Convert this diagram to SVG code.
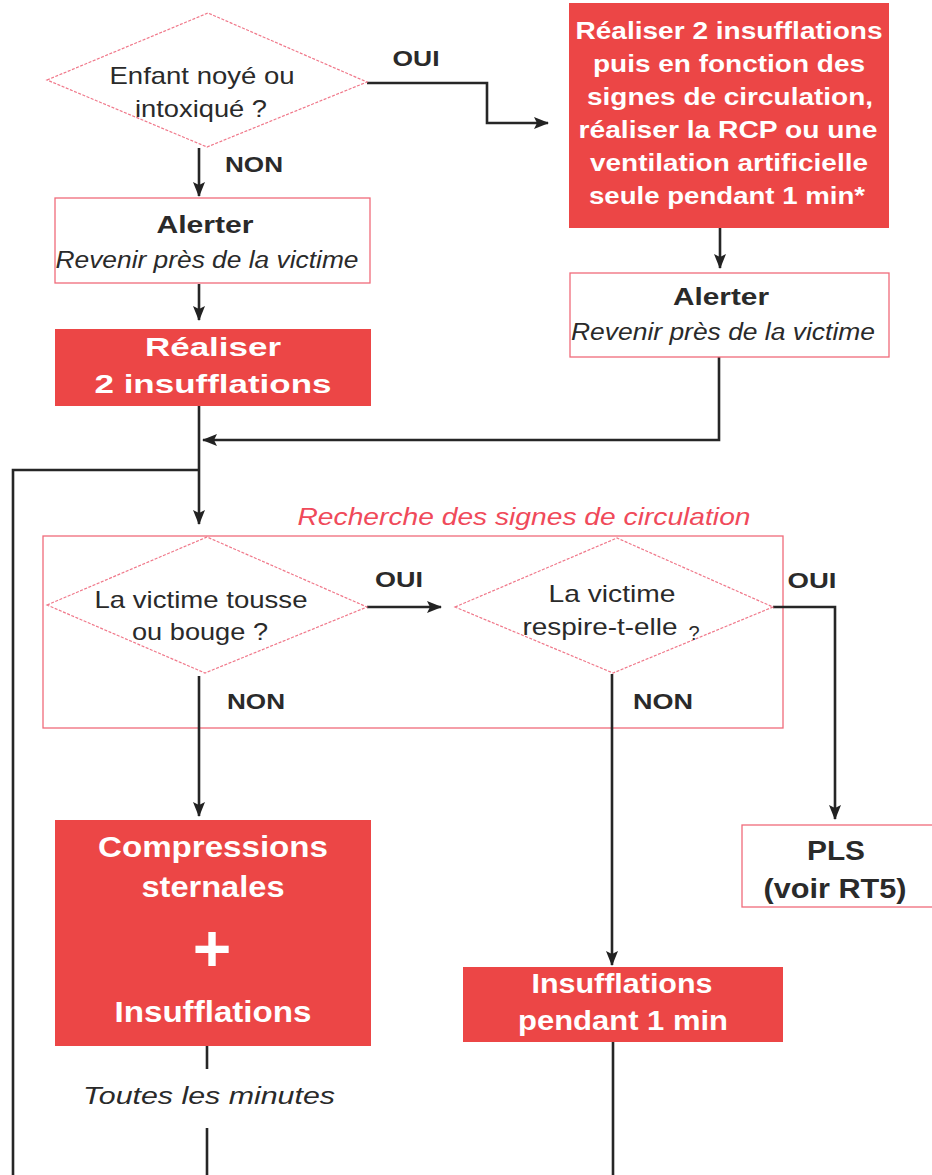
<svg xmlns="http://www.w3.org/2000/svg" width="932" height="1175" viewBox="0 0 932 1175">
<defs>
<marker id="arr" markerUnits="userSpaceOnUse" markerWidth="16" markerHeight="14" refX="14" refY="7" orient="auto">
<path d="M0,1 L15,7 L0,13 L3,7 Z" fill="#222"/>
</marker>
<style>
.dia{fill:#fff;stroke:#f0788a;stroke-width:1.2;stroke-dasharray:3 1.5}
.box{fill:#fff;stroke:#f06b7a;stroke-width:1.3}
.frame{fill:none;stroke:#f06b7a;stroke-width:1.3}
.red{fill:#ec4646}
.ln{fill:none;stroke:#262626;stroke-width:2.6}
.t{font-family:"Liberation Sans",Arial,sans-serif;fill:#2a2a2a;text-anchor:middle}
.n{font-size:24px}
.b{font-size:22px;font-weight:bold}
.bh{font-size:24px;font-weight:bold}
.i{font-size:23px;font-style:italic}
.w{font-family:"Liberation Sans",Arial,sans-serif;fill:#fff;font-weight:bold;text-anchor:middle}
</style>
</defs>
<rect width="932" height="1175" fill="#fff"/>

<g id="recherche">
<rect class="frame" x="43" y="536" width="740" height="192"/>
<text x="524" y="525" font-family="Liberation Sans, Arial, sans-serif" font-size="24" font-style="italic" fill="#f04a5a" text-anchor="middle" textLength="453" lengthAdjust="spacingAndGlyphs">Recherche des signes de circulation</text>
</g>

<g id="connectors">
<path class="ln" d="M367,83 H487 V123 H548" marker-end="url(#arr)"/>
<path class="ln" d="M199,148 V196" marker-end="url(#arr)"/>
<path class="ln" d="M199,284 V320" marker-end="url(#arr)"/>
<path class="ln" d="M720,228 V268" marker-end="url(#arr)"/>
<path class="ln" d="M719,357 V440 H203" marker-end="url(#arr)"/>
<path class="ln" d="M199,406 V524" marker-end="url(#arr)"/>
<path class="ln" d="M199,470 H13 V1175"/>
<path class="ln" d="M367,607 H441" marker-end="url(#arr)"/>
<path class="ln" d="M199,676 V816" marker-end="url(#arr)"/>
<path class="ln" d="M773,607 H835 V819" marker-end="url(#arr)"/>
<path class="ln" d="M612,674 V965" marker-end="url(#arr)"/>
<path class="ln" d="M613,1042 V1175"/>
<path class="ln" d="M207,1046 V1069"/>
<path class="ln" d="M207,1128 V1175"/>
</g>

<g id="q1">
<polygon class="dia" points="47,80 208,13 367,82 207,147"/>
<text class="t n" x="202" y="84" textLength="185" lengthAdjust="spacingAndGlyphs">Enfant noyé ou</text>
<text class="t n" x="201" y="117" textLength="132" lengthAdjust="spacingAndGlyphs">intoxiqué ?</text>
</g>
<text id="l-oui1" class="t b" x="416" y="66" textLength="47" lengthAdjust="spacingAndGlyphs">OUI</text>
<text id="l-non1" class="t b" x="254" y="172" textLength="58" lengthAdjust="spacingAndGlyphs">NON</text>

<g id="action-top">
<rect class="red" x="569" y="3" width="320" height="225"/>
<g class="w" font-size="23">
<text x="729" y="39" textLength="307" lengthAdjust="spacingAndGlyphs">Réaliser 2 insufflations</text>
<text x="729" y="72" textLength="272" lengthAdjust="spacingAndGlyphs">puis en fonction des</text>
<text x="730" y="105" textLength="286" lengthAdjust="spacingAndGlyphs">signes de circulation,</text>
<text x="728" y="138" textLength="299" lengthAdjust="spacingAndGlyphs">réaliser la RCP ou une</text>
<text x="729" y="171" textLength="278" lengthAdjust="spacingAndGlyphs">ventilation artificielle</text>
<text x="727" y="204" textLength="276" lengthAdjust="spacingAndGlyphs">seule pendant 1 min*</text>
</g>
</g>

<g id="alerter-left">
<rect class="box" x="55" y="198" width="315" height="85"/>
<text class="t bh" x="205" y="233" textLength="97" lengthAdjust="spacingAndGlyphs">Alerter</text>
<text class="t i" x="207" y="268" textLength="303" lengthAdjust="spacingAndGlyphs">Revenir près de la victime</text>
</g>

<g id="alerter-right">
<rect class="box" x="570" y="273" width="319" height="84"/>
<text class="t bh" x="721" y="305" textLength="96" lengthAdjust="spacingAndGlyphs">Alerter</text>
<text class="t i" x="723" y="340" textLength="304" lengthAdjust="spacingAndGlyphs">Revenir près de la victime</text>
</g>

<g id="realiser">
<rect class="red" x="55" y="329" width="316" height="77"/>
<text class="w" font-size="26" x="213" y="356" textLength="136" lengthAdjust="spacingAndGlyphs">Réaliser</text>
<text class="w" font-size="26" x="213" y="393" textLength="237" lengthAdjust="spacingAndGlyphs">2 insufflations</text>
</g>

<g id="q2">
<polygon class="dia" points="47,605 207,537 367,607 205,673"/>
<text class="t n" x="201" y="608" textLength="213" lengthAdjust="spacingAndGlyphs">La victime tousse</text>
<text class="t n" x="200" y="640" textLength="136" lengthAdjust="spacingAndGlyphs">ou bouge ?</text>
</g>
<text id="l-oui2" class="t b" x="399" y="587" textLength="48" lengthAdjust="spacingAndGlyphs">OUI</text>
<text id="l-non2" class="t b" x="256" y="709" textLength="58" lengthAdjust="spacingAndGlyphs">NON</text>

<g id="q3">
<polygon class="dia" points="455,607 617,538 773,607 613,673"/>
<text class="t n" x="612" y="602" textLength="127" lengthAdjust="spacingAndGlyphs">La victime</text>
<text class="t n" x="600" y="635" textLength="155" lengthAdjust="spacingAndGlyphs">respire-t-elle</text>
<text class="t" font-size="20" x="694" y="640">?</text>
</g>
<text id="l-oui3" class="t b" x="812" y="588" textLength="49" lengthAdjust="spacingAndGlyphs">OUI</text>
<text id="l-non3" class="t b" x="663" y="709" textLength="60" lengthAdjust="spacingAndGlyphs">NON</text>

<g id="pls">
<rect class="box" x="742" y="825" width="200" height="82"/>
<text class="t" font-size="27" font-weight="bold" x="836" y="860" textLength="58" lengthAdjust="spacingAndGlyphs">PLS</text>
<text class="t" font-size="27" font-weight="bold" x="835" y="898" textLength="143" lengthAdjust="spacingAndGlyphs">(voir RT5)</text>
</g>

<g id="rcp">
<rect class="red" x="55" y="820" width="316" height="226"/>
<text class="w" font-size="29" x="213" y="857" textLength="230" lengthAdjust="spacingAndGlyphs">Compressions</text>
<text class="w" font-size="29" x="213" y="897" textLength="143" lengthAdjust="spacingAndGlyphs">sternales</text>
<text class="w" font-size="66" x="212" y="971">+</text>
<text class="w" font-size="29" x="213" y="1022" textLength="197" lengthAdjust="spacingAndGlyphs">Insufflations</text>
</g>
<text id="l-toutes" class="t" font-size="24" font-style="italic" x="209" y="1104" textLength="252" lengthAdjust="spacingAndGlyphs">Toutes les minutes</text>

<g id="insuff">
<rect class="red" x="463" y="967" width="320" height="75"/>
<text class="w" font-size="27" x="622" y="993" textLength="181" lengthAdjust="spacingAndGlyphs">Insufflations</text>
<text class="w" font-size="27" x="623" y="1030" textLength="210" lengthAdjust="spacingAndGlyphs">pendant 1 min</text>
</g>
</svg>
